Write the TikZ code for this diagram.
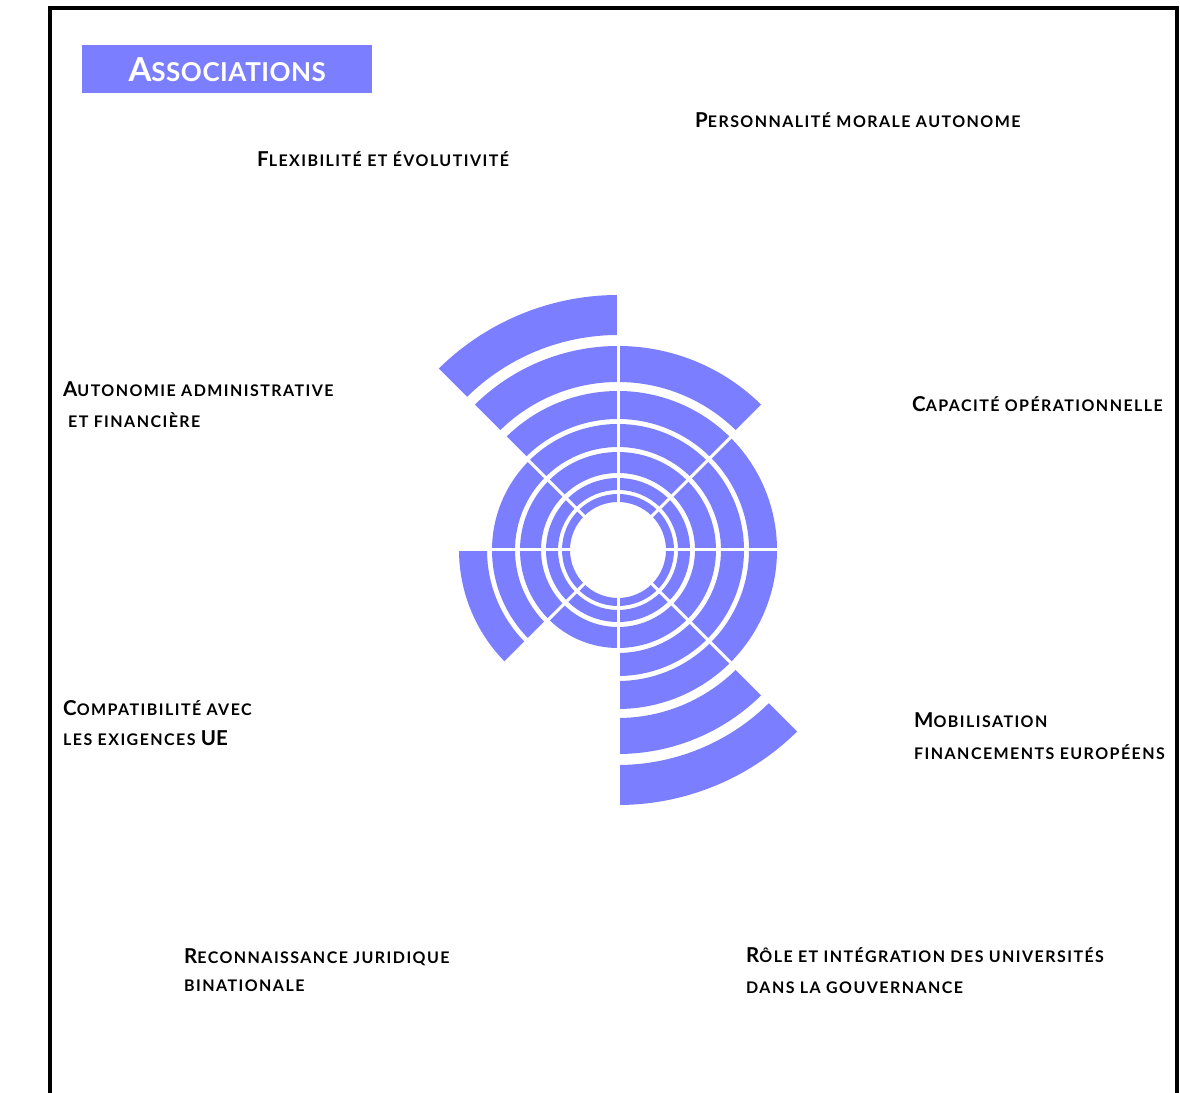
\documentclass[tikz,border=0pt]{standalone}
\usepackage{fontspec}
\newfontfamily\lbl[LetterSpace=9]{Lato}
\newfontfamily\ttl[LetterSpace=2]{Lato}
\definecolor{barblue}{RGB}{123,127,255}
\newcommand{\Bg}[1]{{\fontsize{20.5}{24}\selectfont #1}}
\newcommand{\Tg}[1]{{\fontsize{33}{38}\selectfont #1}}
\tikzset{
  lab/.style={anchor=base west, inner sep=0pt, text=black, font=\lbl\bfseries\fontsize{16}{19}\selectfont},
  bar/.style={fill=barblue},
  sepline/.style={draw=white, line width=3pt},
  frame/.style={draw=black, line width=4pt}
}
\begin{document}
\begin{tikzpicture}[x=1pt,y=1pt]
\useasboundingbox (0,0) rectangle (1180,1092);
\fill[white] (0,0) rectangle (1180,1092);
\draw[frame] (50,-20) rectangle (1177,1084);
\coordinate (c) at (618,542);
% radial bars
\foreach \a/\n in {0/5,45/6,90/7,135/4,180/5,225/3,270/7,315/5}{
  \foreach \ri/\ro [count=\k] in {48/56,60/72,77/98,103/126,131/159,168/204,215/255}{
    \ifnum\k>\n\relax\else
      \fill[bar,shift={(c)}] (\a:\ri) arc[start angle=\a, end angle=\a+45, radius=\ri]
        -- (\a+45:\ro) arc[start angle=\a+45, end angle=\a, radius=\ro] -- cycle;
    \fi
  }
}
\foreach \a in {0,45,...,315}{
  \draw[sepline] (c) -- ++(\a:262);
}
% title
\node[fill=barblue, minimum width=290pt, minimum height=48pt, anchor=north west, inner sep=0pt,
      text=white, font=\ttl\bfseries\fontsize{26}{30}\selectfont] (title) at (82,1047) {\Tg{A}SSOCIATIONS};
% labels
\node[lab] (pers) at (695,964) {\Bg{P}ERSONNALITÉ MORALE AUTONOME};
\node[lab] (flex) at (257,925) {\Bg{F}LEXIBILITÉ ET ÉVOLUTIVITÉ};
\node[lab] (auto1) at (63,695) {\Bg{A}UTONOMIE ADMINISTRATIVE};
\node[lab] (auto2) at (68,664) {ET FINANCIÈRE};
\node[lab] (capa) at (912,680) {\Bg{C}APACITÉ OPÉRATIONNELLE};
\node[lab] (comp1) at (63,376) {\Bg{C}OMPATIBILITÉ AVEC};
\node[lab] (comp2) at (63,346) {LES EXIGENCES \Bg{\addfontfeature{LetterSpace=0}UE}};
\node[lab] (mobi1) at (914,364) {\Bg{M}OBILISATION};
\node[lab] (mobi2) at (914,332) {FINANCEMENTS EUROPÉENS};
\node[lab] (reco1) at (184,128) {\Bg{R}ECONNAISSANCE JURIDIQUE};
\node[lab] (reco2) at (184,100) {BINATIONALE};
\node[lab] (role1) at (746,129) {\Bg{R}ÔLE ET INTÉGRATION DES UNIVERSITÉS};
\node[lab] (role2) at (746,99) {DANS LA GOUVERNANCE};
\end{tikzpicture}
\end{document}
